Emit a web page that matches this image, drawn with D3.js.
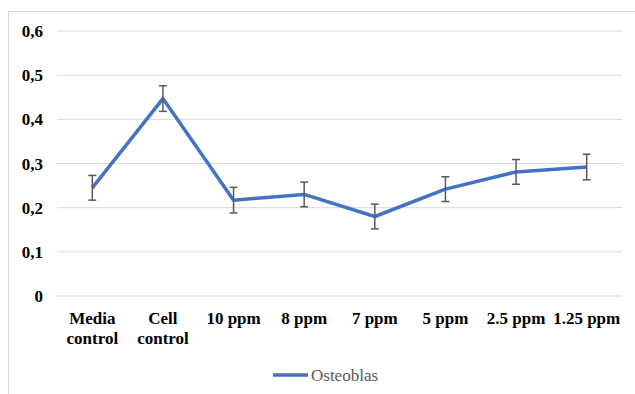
<!DOCTYPE html>
<html>
<head>
<meta charset="utf-8">
<script src="https://cdn.jsdelivr.net/npm/d3@7"></script>
</head>
<body style="margin:0">
<svg width="635" height="394"></svg>
<script>
// categories along the x axis
const categories = ["Media control", "Cell control", "10 ppm", "8 ppm", "7 ppm", "5 ppm", "2.5 ppm", "1.25 ppm"]

// mean values and error (+/-) for the Osteoblas series
const osteoblas = [0.245, 0.447, 0.217, 0.230, 0.180, 0.242, 0.281, 0.292]
const errors = [0.028, 0.029, 0.029, 0.028, 0.028, 0.028, 0.028, 0.029]

const yTicks = [0, 0.1, 0.2, 0.3, 0.4, 0.5, 0.6]

const svg = d3.select("svg")

// chart frame
svg.append("rect")
  .attr("x", 8.5).attr("y", 11.5)
  .attr("width", 640).attr("height", 400)
  .attr("fill", "none")
  .attr("stroke", "#d9d9d9")

const x = d3.scaleBand()
  .domain(categories)
  .range([57, 622])

const y = d3.scaleLinear()
  .domain([0, 0.6])
  .range([296, 31])

const cx = d => x(d) + x.bandwidth() / 2

// gridlines
svg.append("g")
  .selectAll("line")
  .data(yTicks)
  .enter()
  .append("line")
  .attr("x1", 57).attr("x2", 622)
  .attr("y1", d => y(d)).attr("y2", d => y(d))
  .attr("stroke", "#d9d9d9")

// y axis labels (own text, not d3.axis, to keep font control simple)
svg.append("g")
  .selectAll("text")
  .data(yTicks)
  .enter()
  .append("text")
  .attr("x", 43)
  .attr("y", d => y(d) + 6)
  .attr("text-anchor", "end")
  .style("font-family", '"Times New Roman", monospace')
  .style("font-size", "17px")
  .style("font-weight", "bold")
  .attr("fill", "#000")
  .text(d => d === 0 ? "0" : d3.format(".1f")(d).replace(".", ","))

// x axis labels, two-word controls split on two lines
const xLabels = svg.append("g")
  .selectAll("text")
  .data(categories)
  .enter()
  .append("text")
  .attr("x", cx)
  .attr("y", 324)
  .attr("text-anchor", "middle")
  .style("font-family", '"Times New Roman", monospace')
  .style("font-size", "17px")
  .style("font-weight", "bold")
  .attr("fill", "#000")

xLabels.each(function (d) {
  const lines = d.endsWith("control") ? d.split(" ") : [d]
  d3.select(this).selectAll("tspan")
    .data(lines)
    .enter()
    .append("tspan")
    .attr("x", cx(d))
    .attr("dy", (l, i) => i === 0 ? 0 : 20)
    .text(l => l)
})

// the line
const line = d3.line()
  .x((d, i) => cx(categories[i]))
  .y(d => y(d))

svg.append("path")
  .datum(osteoblas)
  .attr("d", line)
  .attr("fill", "none")
  .attr("stroke", "#4472c4")
  .attr("stroke-width", 3.5)
  .attr("stroke-linejoin", "round")

// error bars
const bars = svg.append("g")
  .attr("stroke", "#595959")
  .attr("stroke-width", 1.5)
  .selectAll("g")
  .data(osteoblas)
  .enter()
  .append("g")

bars.append("line")
  .attr("x1", (d, i) => cx(categories[i]))
  .attr("x2", (d, i) => cx(categories[i]))
  .attr("y1", (d, i) => y(d + errors[i]))
  .attr("y2", (d, i) => y(d - errors[i]))

bars.append("line")
  .attr("x1", (d, i) => cx(categories[i]) - 4)
  .attr("x2", (d, i) => cx(categories[i]) + 4)
  .attr("y1", (d, i) => y(d + errors[i]))
  .attr("y2", (d, i) => y(d + errors[i]))

bars.append("line")
  .attr("x1", (d, i) => cx(categories[i]) - 4)
  .attr("x2", (d, i) => cx(categories[i]) + 4)
  .attr("y1", (d, i) => y(d - errors[i]))
  .attr("y2", (d, i) => y(d - errors[i]))

// legend
const legend = svg.append("g")
legend.append("line")
  .attr("x1", 273).attr("x2", 308)
  .attr("y1", 375).attr("y2", 375)
  .attr("stroke", "#4472c4")
  .attr("stroke-width", 3.5)
legend.append("text")
  .attr("x", 311).attr("y", 381)
  .style("font-family", '"Times New Roman", monospace')
  .style("font-size", "17px")
  .attr("fill", "#595959")
  .text("Osteoblas")
</script>
</body>
</html>
